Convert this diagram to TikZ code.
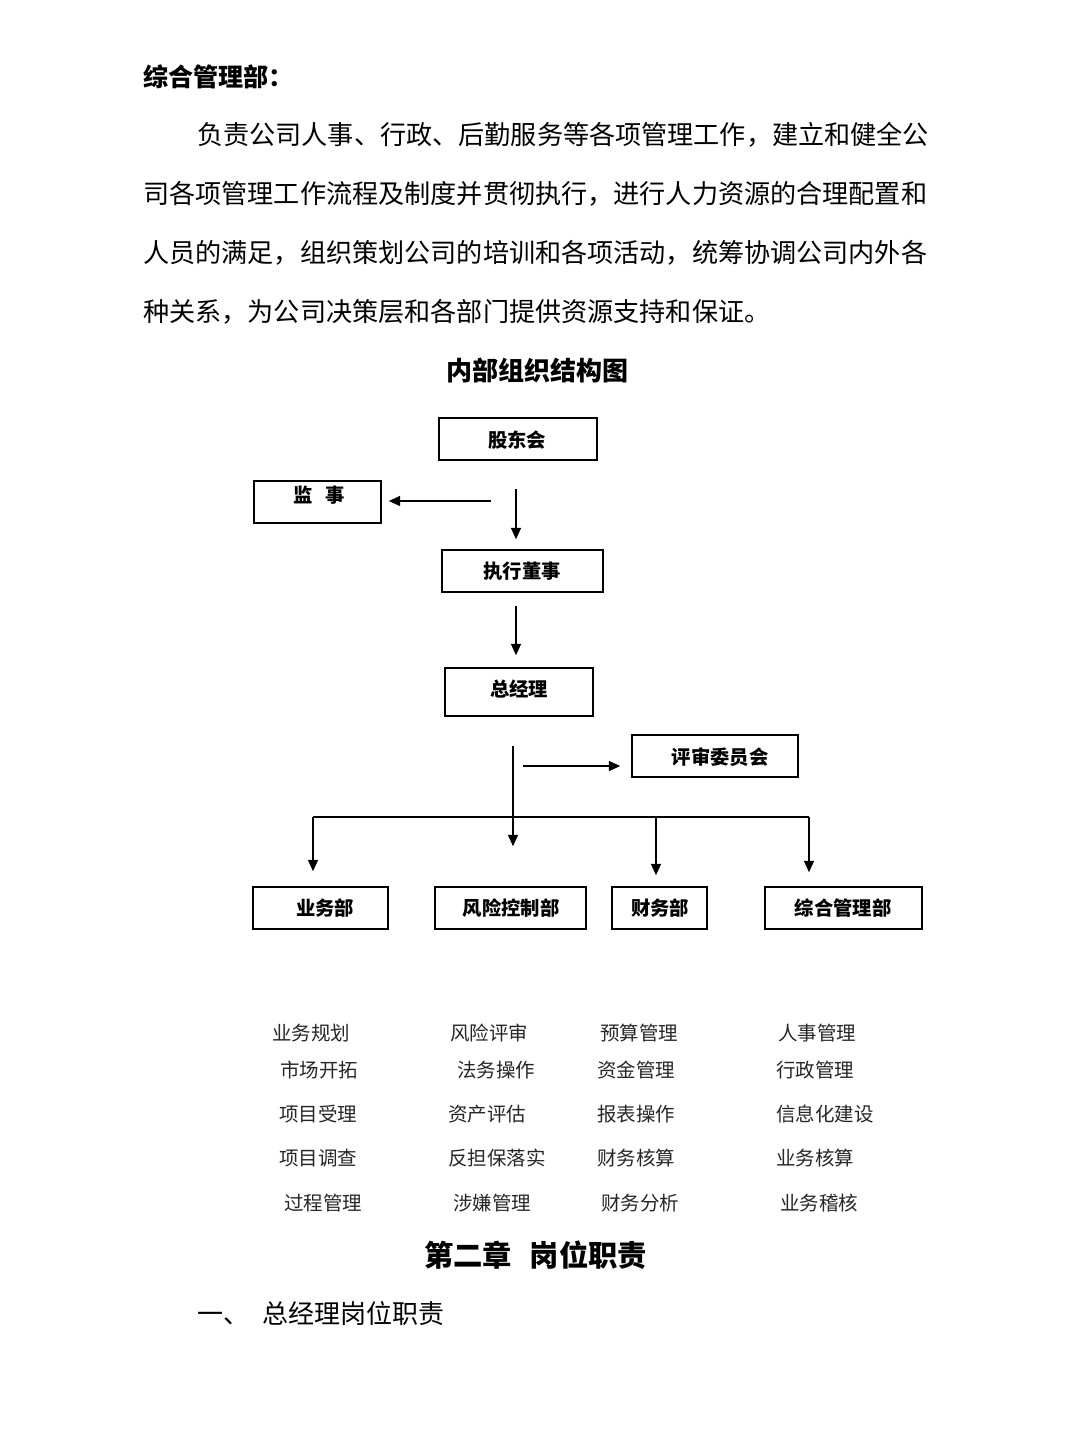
\documentclass[tikz,border=0pt]{standalone}
\usepackage{fontspec}
\setmainfont{Noto Sans CJK SC}
\usetikzlibrary{arrows.meta}
\begin{document}
\begin{tikzpicture}[x=0.75pt,y=-0.75pt,
  box/.style={draw=black, line width=1.2pt, inner sep=0pt},
  boxtxt/.style={inner sep=0pt, font=\fontsize{14.5pt}{16pt}\selectfont\bfseries},
  body/.style={inner sep=0pt, anchor=west, font=\fontsize{19.6pt}{24pt}\selectfont},
  item/.style={inner sep=0pt, anchor=west, text=black!85, font=\fontsize{14.6pt}{17pt}\selectfont},
  conn/.style={line width=1.1pt, draw=black},
  arr/.style={conn, -{Triangle[length=8.5pt,width=7.5pt]}}
]
\useasboundingbox (0,0) rectangle (1080,1440);
\fill[white] (0,0) rectangle (1080,1440);

% ---- top text ----
\node[body, font=\fontsize{18.8pt}{22pt}\selectfont\bfseries] (head) at (143,77) {综合管理部：};
\node[body] (p1) at (197,135) {负责公司人事、行政、后勤服务等各项管理工作，建立和健全公};
\node[body] (p2) at (143,194) {司各项管理工作流程及制度并贯彻执行，进行人力资源的合理配置和};
\node[body] (p3) at (143,253) {人员的满足，组织策划公司的培训和各项活动，统筹协调公司内外各};
\node[body] (p4) at (143,312) {种关系，为公司决策层和各部门提供资源支持和保证。};
\node[inner sep=0pt, font=\fontsize{19.5pt}{22pt}\selectfont\bfseries] (title) at (537,371) {内部组织结构图};

% ---- boxes ----
\node[box, minimum width=158*0.75pt, minimum height=42*0.75pt] (gudong) at (518,439) {};
\node[boxtxt] (gudongt) at (517,440) {股东会};
\node[box, minimum width=127*0.75pt, minimum height=42*0.75pt] (jianshi) at (317.5,502) {};
\node[boxtxt] (jianshit) at (319,495) {监\hspace{0.65em}事};
\node[box, minimum width=161*0.75pt, minimum height=42*0.75pt] (zhixing) at (522.5,571) {};
\node[boxtxt] (zhixingt) at (522,571) {执行董事};
\node[box, minimum width=148*0.75pt, minimum height=48*0.75pt] (zjl) at (519,692) {};
\node[boxtxt] (zjlt) at (519,689) {总经理};
\node[box, minimum width=166*0.75pt, minimum height=42*0.75pt] (pingshen) at (715,756) {};
\node[boxtxt] (pingshent) at (720,757) {评审委员会};

\node[box, minimum width=135*0.75pt, minimum height=42*0.75pt] (yewu) at (320.5,908) {};
\node[boxtxt] (yewut) at (325,908) {业务部};
\node[box, minimum width=151*0.75pt, minimum height=42*0.75pt] (fengxian) at (510.5,908) {};
\node[boxtxt] (fengxiant) at (511,908) {风险控制部};
\node[box, minimum width=95*0.75pt, minimum height=42*0.75pt] (caiwu) at (659.5,908) {};
\node[boxtxt] (caiwut) at (660,908) {财务部};
\node[box, minimum width=157*0.75pt, minimum height=42*0.75pt] (zonghe) at (843.5,908) {};
\node[boxtxt] (zonghet) at (843,908) {综合管理部};

% ---- connectors ----
\coordinate (spine) at (516,500);
\coordinate (jsfrom) at (491,501);
\coordinate (trunk) at (513,817);
\coordinate (busL) at (313,817);
\coordinate (busR) at (809,817);
\coordinate (caiwuB) at (656,817);
\coordinate (psfrom) at (523,766);

\draw[arr, shorten <=21pt, shorten >=7.5pt] (gudong.south -| spine) -- (zhixing.north -| spine);
\draw[arr, shorten >=5.25pt] (jsfrom) -- (jsfrom -| jianshi.east);
\draw[arr, shorten <=9.75pt, shorten >=9pt] (zhixing.south -| spine) -- (zjl.north -| spine);
\draw[arr, shorten <=21.75pt, shorten >=30pt] (zjl.south -| trunk) -- (fengxian.north -| trunk);
\draw[arr, shorten >=8.25pt] (psfrom) -- (psfrom -| pingshen.west);
\draw[conn] (busL) -- (busR);
\draw[arr, shorten >=11.25pt] (busL) -- (yewu.north -| busL);
\draw[arr, shorten >=8.25pt] (caiwuB) -- (caiwu.north -| caiwuB);
\draw[arr, shorten >=10.5pt] (busR) -- (zonghe.north -| busR);

% ---- duty lists ----
\node[item] (a1) at (272,1033) {业务规划};
\node[item] (a2) at (280,1070) {市场开拓};
\node[item] (a3) at (279,1114) {项目受理};
\node[item] (a4) at (279,1158) {项目调查};
\node[item] (a5) at (284,1203) {过程管理};
\node[item] (b1) at (450,1033) {风险评审};
\node[item] (b2) at (457,1070) {法务操作};
\node[item] (b3) at (448,1114) {资产评估};
\node[item] (b4) at (448,1158) {反担保落实};
\node[item] (b5) at (453,1203) {涉嫌管理};
\node[item] (c1) at (600,1033) {预算管理};
\node[item] (c2) at (597,1070) {资金管理};
\node[item] (c3) at (597,1114) {报表操作};
\node[item] (c4) at (597,1158) {财务核算};
\node[item] (c5) at (601,1203) {财务分析};
\node[item] (d1) at (778,1033) {人事管理};
\node[item] (d2) at (776,1070) {行政管理};
\node[item] (d3) at (776,1114) {信息化建设};
\node[item] (d4) at (776,1158) {业务核算};
\node[item] (d5) at (780,1203) {业务稽核};

% ---- bottom headings ----
\node[inner sep=0pt, anchor=west, font=\fontsize{22pt}{26pt}\selectfont\bfseries] (chap) at (424,1255) {第二章\hspace{0.6em}岗位职责};
\node[body, font=\fontsize{19.5pt}{23pt}\selectfont] (sec) at (197,1314) {一、\hspace{10pt}总经理岗位职责};
\end{tikzpicture}
\end{document}
